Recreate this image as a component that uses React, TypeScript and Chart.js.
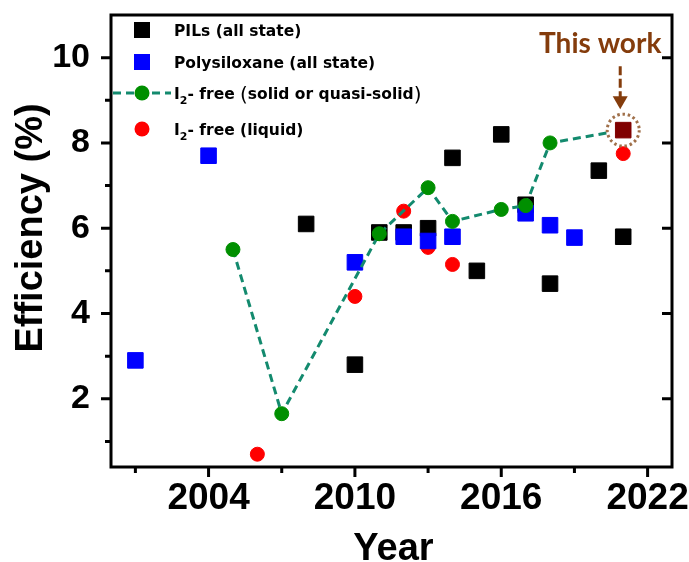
import React, { useEffect, useRef } from 'react';
import { Chart, registerables } from 'chart.js';

Chart.register(...registerables);

// ---- data ----
const pilsYears = [2008, 2010, 2011, 2012, 2013, 2014, 2015, 2016, 2017, 2018, 2020, 2021];
const pilsEff = [6.1, 2.8, 5.9, 5.9, 6.0, 7.65, 5.0, 8.2, 6.55, 4.7, 7.35, 5.8];

const polyYears = [2001, 2004, 2010, 2012, 2013, 2014, 2017, 2018, 2019];
const polyEff = [2.9, 7.7, 5.2, 5.8, 5.7, 5.8, 6.35, 6.07, 5.78];

const solidYears = [2005, 2007, 2011, 2013, 2014, 2016, 2017, 2018];
const solidEff = [5.5, 1.65, 5.87, 6.95, 6.16, 6.44, 6.53, 8.0];

const liquidYears = [2006, 2010, 2012, 2013, 2014, 2021];
const liquidEff = [0.7, 4.4, 6.4, 5.55, 5.15, 7.75];

const thisWorkYears = [2021];
const thisWorkEff = [8.3];

const xMajorTicks = [2004, 2010, 2016, 2022];
const xMinorTicks = [2001, 2007, 2013, 2019];
const yMajorTicks = [2, 4, 6, 8, 10];
const yMinorTicks = [1, 3, 5, 7, 9];

const xTitle = 'Year';
const yTitle = 'Efficiency (%)';
const annotationText = 'This work';

type Seg = { t: string; sub?: boolean; big?: boolean };
const legendLabels: Seg[][] = [
  [{ t: 'PILs (all state)' }],
  [{ t: 'Polysiloxane (all state)' }],
  [{ t: 'I' }, { t: '2', sub: true }, { t: '- free ' }, { t: '(', big: true }, { t: 'solid or quasi-solid' }, { t: ')', big: true }],
  [{ t: 'I' }, { t: '2', sub: true }, { t: '- free (liquid)' }],
];

// ---- styles ----
const BLACK = '#000000';
const BLUE = '#0000ff';
const RED = '#ff0000';
const GREEN = '#008f00';
const TEAL = '#138a6e';
const MAROON = '#800000';
const BROWN = '#843c0c';
const HALO = '#a0704a';

const zip = (xs: number[], ys: number[]) => xs.map((x, i) => ({ x, y: ys[i] }));

const THIS_WORK_INDEX = 4;

const decorPlugin = {
  id: 'decor',
  afterDatasetsDraw(chart: any) {
    const { ctx, chartArea: a, scales } = chart;
    const xs = scales.x;
    const ys = scales.y;
    ctx.save();

    // halo around this work
    const px = xs.getPixelForValue(thisWorkYears[0]);
    const py = ys.getPixelForValue(thisWorkEff[0]);
    ctx.beginPath();
    ctx.arc(px, py, 16, 0, Math.PI * 2);
    ctx.fillStyle = '#ffffff';
    ctx.fill();
    ctx.setLineDash([2.5, 2.8]);
    ctx.lineWidth = 3;
    ctx.strokeStyle = HALO;
    ctx.stroke();
    ctx.setLineDash([]);
    const meta = chart.getDatasetMeta(THIS_WORK_INDEX);
    meta.data.forEach((el: any) => el.draw(ctx, a));

    // arrow
    const ax = px - 3;
    ctx.strokeStyle = BROWN;
    ctx.lineWidth = 3;
    ctx.setLineDash([9, 3.5]);
    ctx.beginPath();
    ctx.moveTo(ax, py - 64);
    ctx.lineTo(ax, py - 33);
    ctx.stroke();
    ctx.setLineDash([]);
    ctx.fillStyle = BROWN;
    ctx.beginPath();
    ctx.moveTo(ax - 7.5, py - 34);
    ctx.lineTo(ax + 7.5, py - 34);
    ctx.lineTo(ax, py - 21);
    ctx.closePath();
    ctx.fill();
    ctx.font = 'bold 28px Lato';
    ctx.textAlign = 'center';
    ctx.textBaseline = 'middle';
    ctx.fillText(annotationText, px - 23, py - 86);

    // frame
    ctx.strokeStyle = BLACK;
    ctx.lineWidth = 3;
    ctx.strokeRect(a.left, a.top, a.right - a.left, a.bottom - a.top);

    // ticks
    ctx.lineWidth = 3;
    ctx.beginPath();
    yMajorTicks.forEach((v) => {
      const yy = ys.getPixelForValue(v);
      ctx.moveTo(a.left - 10, yy); ctx.lineTo(a.left, yy);
      ctx.moveTo(a.right, yy); ctx.lineTo(a.right - 10, yy);
    });
    yMinorTicks.forEach((v) => {
      const yy = ys.getPixelForValue(v);
      ctx.moveTo(a.left - 6, yy); ctx.lineTo(a.left, yy);
    });
    xMajorTicks.forEach((v) => {
      const xx = xs.getPixelForValue(v);
      ctx.moveTo(xx, a.bottom); ctx.lineTo(xx, a.bottom + 10);
    });
    xMinorTicks.forEach((v) => {
      const xx = xs.getPixelForValue(v);
      ctx.moveTo(xx, a.bottom); ctx.lineTo(xx, a.bottom + 6);
    });
    ctx.stroke();

    // legend
    const lx = a.left + 31;
    const tx = a.left + 63;
    const rows = [30, 62, 93, 129];
    const baseFont = 'DejaVu Sans';
    legendLabels.forEach((segs, i) => {
      const yy = rows[i];
      if (i === 0 || i === 1) {
        ctx.fillStyle = i === 0 ? BLACK : BLUE;
        ctx.fillRect(lx - 8, yy - 8, 16, 16);
      } else if (i === 2) {
        ctx.strokeStyle = TEAL;
        ctx.lineWidth = 3;
        ctx.setLineDash([8, 5]);
        ctx.beginPath();
        ctx.moveTo(a.left + 2, yy);
        ctx.lineTo(a.left + 60, yy);
        ctx.stroke();
        ctx.setLineDash([]);
        ctx.fillStyle = GREEN;
        ctx.beginPath(); ctx.arc(lx, yy, 7.5, 0, Math.PI * 2); ctx.fill();
      } else {
        ctx.fillStyle = RED;
        ctx.beginPath(); ctx.arc(lx, yy, 7.5, 0, Math.PI * 2); ctx.fill();
      }
      ctx.fillStyle = BLACK;
      ctx.textAlign = 'left';
      ctx.textBaseline = 'alphabetic';
      let cx = tx;
      const baseline = yy + 6;
      segs.forEach((s) => {
        if (s.sub) {
          ctx.font = `bold 11px ${baseFont}`;
          ctx.fillText(s.t, cx, baseline + 5);
        } else if (s.big) {
          ctx.font = `20px ${baseFont}`;
          ctx.fillText(s.t, cx, baseline + 2);
        } else {
          ctx.font = `bold 15.5px ${baseFont}`;
          ctx.fillText(s.t, cx, baseline);
        }
        cx += ctx.measureText(s.t).width;
      });
    });

    // axis titles
    ctx.fillStyle = BLACK;
    ctx.font = 'bold 38px "Liberation Sans", Arial, sans-serif';
    ctx.textAlign = 'center';
    ctx.textBaseline = 'alphabetic';
    ctx.fillText(xTitle, (a.left + a.right) / 2 + 2, 560);
    ctx.save();
    ctx.translate(42, (a.top + a.bottom) / 2 - 13);
    ctx.rotate(-Math.PI / 2);
    ctx.fillText(yTitle, 0, 0);
    ctx.restore();

    ctx.restore();
  },
};

const zeroPad = (s: any) => {
  s.paddingTop = 0;
  s.paddingBottom = 0;
  s.paddingLeft = 0;
  s.paddingRight = 0;
};

export default function App() {
  const ref = useRef<HTMLCanvasElement | null>(null);

  useEffect(() => {
    if (!ref.current) return;
    const pointRect = { pointStyle: 'rect' as const, pointRadius: 11, borderWidth: 1 };
    const chart = new Chart(ref.current, {
      type: 'scatter',
      data: {
        datasets: [
          {
            label: 'PILs (all state)',
            data: zip(pilsYears, pilsEff),
            backgroundColor: BLACK,
            borderColor: BLACK,
            ...pointRect,
            order: 4,
          },
          {
            label: 'I2- free (liquid)',
            data: zip(liquidYears, liquidEff),
            backgroundColor: RED,
            borderColor: RED,
            pointRadius: 7,
            borderWidth: 1,
            order: 3,
          },
          {
            label: 'Polysiloxane (all state)',
            data: zip(polyYears, polyEff),
            backgroundColor: BLUE,
            borderColor: BLUE,
            ...pointRect,
            order: 2,
          },
          {
            type: 'line' as const,
            label: 'I2- free (solid or quasi-solid)',
            data: [...zip(solidYears, solidEff), ...zip(thisWorkYears, thisWorkEff)],
            showLine: true,
            borderColor: TEAL,
            borderWidth: 3,
            borderDash: [8, 5],
            tension: 0,
            fill: false,
            pointBackgroundColor: GREEN,
            pointBorderColor: GREEN,
            pointBorderWidth: 1,
            pointRadius: (c: any) => (c.dataIndex >= solidYears.length ? 0 : 7),
            order: 1,
          },
          {
            label: 'This work',
            data: zip(thisWorkYears, thisWorkEff),
            backgroundColor: MAROON,
            borderColor: MAROON,
            ...pointRect,
            order: 0,
          },
        ],
      },
      options: {
        animation: false,
        responsive: false,
        events: [],
        layout: { padding: { top: 15, right: 17, left: 0, bottom: 0 } },
        plugins: { legend: { display: false }, tooltip: { enabled: false } },
        scales: {
          x: {
            type: 'linear',
            min: 2000,
            max: 2023,
            grid: { display: false, drawTicks: false },
            border: { display: false },
            afterBuildTicks: (s: any) => { s.ticks = xMajorTicks.map((v) => ({ value: v })); },
            afterFit: (s: any) => { s.height = 95; zeroPad(s); },
            ticks: {
              color: BLACK,
              padding: 10,
              autoSkip: false,
              maxRotation: 0,
              font: { family: '"Liberation Sans", Arial, sans-serif', size: 37, weight: 'bold' },
              callback: (v: any) => String(v),
            },
          },
          y: {
            type: 'linear',
            min: 0.4,
            max: 11,
            grid: { display: false, drawTicks: false },
            border: { display: false },
            afterBuildTicks: (s: any) => { s.ticks = yMajorTicks.map((v) => ({ value: v })); },
            afterFit: (s: any) => { s.width = 111; zeroPad(s); },
            ticks: {
              color: BLACK,
              padding: 21,
              autoSkip: false,
              font: { family: '"Liberation Sans", Arial, sans-serif', size: 34, weight: 'bold' },
              callback: (v: any) => String(v),
            },
          },
        },
      },
      plugins: [decorPlugin],
    } as any);
    return () => chart.destroy();
  }, []);

  return (
    <div style={{ position: 'fixed', left: 0, top: 0, width: 689, height: 562, background: '#fff' }}>
      <canvas ref={ref} width={689} height={562} style={{ width: 689, height: 562, display: 'block' }} />
    </div>
  );
}
